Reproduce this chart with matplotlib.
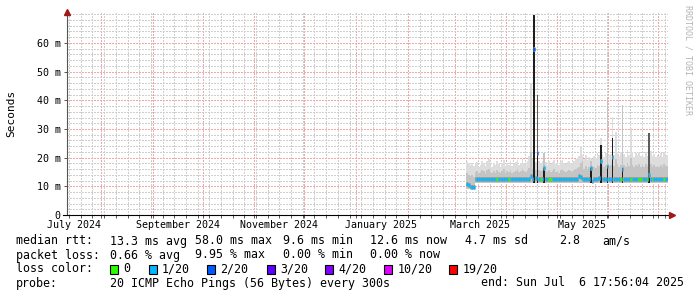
import numpy as np
import matplotlib
matplotlib.use("Agg")
import matplotlib.pyplot as plt
import matplotlib.dates as mdates
import matplotlib.transforms as mtrans
from matplotlib.patches import Rectangle
from datetime import datetime, timedelta

W, H = 697, 297
plt.rcParams['font.family'] = ['DejaVu Sans Mono']

# graph window: last 360 days up to the end stamp
t_end = datetime(2025, 7, 6, 17, 56, 4)
t_start = t_end - timedelta(days=360)
first_day = datetime(2025, 3, 8)   # first day with data

# daily values in ms
median_ms = [
    10.7, 10.6, 9.7, 9.6, 9.8, 12.5, 12.4, 12.5, 12.6, 12.5,
    12.4, 12.5, 12.5, 12.6, 12.5, 12.4, 12.5, 12.5, 12.4, 12.6,
    12.5, 12.5, 12.4, 12.5, 12.6, 12.5, 12.5, 12.4, 12.5, 12.5,
    12.6, 12.5, 12.4, 12.5, 12.5, 12.6, 12.5, 12.6, 13.6, 12.7,
    58.0, 12.8, 21.6, 12.6, 12.4, 12.5, 16.4, 12.5, 12.4, 12.4,
    12.5, 12.5, 12.6, 12.5, 12.4, 12.5, 12.5, 12.6, 12.5, 12.4,
    12.5, 12.5, 12.6, 12.5, 12.4, 12.5, 12.6, 13.6, 13.4, 12.6,
    12.5, 12.4, 12.5, 12.6, 16.5, 11.7, 12.4, 12.5, 12.6, 13.0,
    19.0, 12.6, 12.5, 12.6, 17.1, 12.5, 12.6, 20.3, 12.5, 12.6,
    12.5, 12.4, 12.5, 15.9, 12.6, 12.5, 12.4, 12.5, 12.6, 12.5,
    12.5, 12.4, 12.5, 12.6, 12.5, 12.5, 12.4, 12.5, 12.6, 14.0,
    12.6, 12.5, 12.4, 12.5, 12.6, 12.5, 12.5, 12.4, 12.5, 12.6, 12.6]

smoke_hi = [
    18.6, 18.0, 17.5, 18.2, 17.0, 17.8, 18.5, 16.9, 17.6, 19.0,
    18.2, 17.1, 18.8, 19.4, 17.5, 16.8, 18.1, 17.4, 18.9, 17.7,
    16.9, 18.3, 19.1, 17.2, 18.0, 17.6, 18.7, 17.0, 17.9, 18.4,
    19.2, 17.3, 18.1, 19.5, 18.2, 17.4, 19.0, 20.5, 46.0, 19.5,
    69.8, 18.5, 42.0, 19.0, 18.2, 19.0, 21.6, 18.4, 17.6, 18.9,
    17.8, 18.5, 19.2, 17.9, 18.6, 17.4, 18.8, 19.3, 18.1, 17.7,
    18.5, 19.0, 18.2, 17.8, 18.9, 19.4, 20.0, 20.5, 24.2, 20.9,
    19.5, 20.8, 19.2, 20.2, 19.9, 19.5, 20.5, 19.8, 21.6, 21.0,
    26.8, 21.2, 20.3, 21.5, 41.3, 20.8, 21.4, 34.3, 21.0, 29.0,
    22.0, 20.5, 21.8, 38.4, 21.2, 20.4, 22.5, 21.0, 30.3, 21.8,
    20.2, 21.5, 20.8, 22.0, 20.6, 21.3, 20.1, 21.9, 20.7, 28.6,
    22.3, 20.5, 21.4, 20.2, 21.0, 20.6, 21.7, 20.3, 22.0, 21.1, 20.8]

smoke_mid = [
    14.5, 14.0, 13.6, 13.9, 13.4, 15.0, 15.4, 14.6, 15.1, 15.8,
    15.2, 14.7, 15.6, 16.0, 14.9, 14.5, 15.3, 14.8, 15.7, 15.0,
    14.6, 15.4, 15.9, 14.8, 15.2, 15.0, 15.6, 14.7, 15.1, 15.5,
    15.9, 14.9, 15.3, 16.1, 15.4, 15.0, 15.8, 16.4, 22.0, 16.0,
    18.0, 15.6, 19.0, 15.8, 15.2, 15.7, 21.6, 15.3, 14.9, 15.6,
    15.0, 15.4, 15.9, 15.1, 15.5, 14.8, 15.6, 16.0, 15.2, 15.0,
    15.4, 15.8, 15.3, 15.0, 15.7, 16.0, 16.4, 16.8, 18.0, 19.0,
    16.2, 17.0, 16.0, 16.6, 19.0, 16.2, 16.8, 16.4, 17.6, 17.2,
    20.5, 17.4, 16.8, 17.5, 41.3, 17.0, 17.4, 22.0, 17.2, 19.5,
    17.8, 16.9, 17.6, 38.4, 17.3, 16.8, 18.0, 17.2, 19.8, 17.6,
    16.7, 17.5, 17.0, 17.8, 16.9, 17.3, 16.6, 17.7, 17.0, 16.0,
    17.9, 16.9, 17.4, 16.7, 17.1, 16.8, 17.6, 16.7, 17.8, 17.2, 17.0]

smoke_lo = [
    9.2, 9.0, 8.9, 9.0, 9.2, 11.2, 11.3, 11.1, 11.2, 11.3,
    11.2, 11.1, 11.3, 11.2, 11.2, 11.1, 11.3, 11.2, 11.1, 11.2,
    11.3, 11.2, 11.1, 11.2, 11.3, 11.2, 11.2, 11.1, 11.3, 11.2,
    11.2, 11.3, 11.1, 11.2, 11.2, 11.3, 11.2, 11.1, 11.3, 11.2,
    11.3, 11.2, 11.2, 11.1, 11.3, 11.2, 11.2, 11.1, 11.2, 11.3,
    11.2, 11.1, 11.2, 11.3, 11.2, 11.2, 11.1, 11.3, 11.2, 11.2,
    11.1, 11.2, 11.3, 11.2, 11.2, 11.1, 11.3, 11.2, 11.2, 11.1,
    11.2, 11.3, 11.2, 11.1, 11.2, 10.8, 11.2, 11.3, 11.1, 11.2,
    11.2, 11.3, 11.1, 11.2, 11.2, 11.3, 11.1, 11.2, 11.2, 11.3,
    11.1, 11.2, 11.2, 11.3, 11.1, 11.2, 11.2, 11.3, 11.1, 11.2,
    11.2, 11.1, 11.3, 11.2, 11.2, 11.1, 11.3, 11.2, 11.2, 11.1,
    11.2, 11.3, 11.2, 11.1, 11.2, 11.2, 11.3, 11.1, 11.2, 11.2, 11.3]

# darker parts of the smoke (day index -> top in ms)
dark_days = [42, 109]
dark_top = [42.0, 28.6]
black_days = [40, 42, 46, 74, 80, 84, 87, 93, 109]
black_top = [69.8, 21.6, 16.5, 16.5, 24.4, 17.1, 26.7, 16.4, 14.0]

# loss per day: default 1/20, these days 0 or 2/20
green_days = [18, 25, 44, 49, 50, 92, 98, 103, 104, 108, 111, 118]
blue_days = [40, 42]

loss_labels = ['0', '1/20', '2/20', '3/20', '4/20', '10/20', '19/20']
loss_colors = ['#26ff00', '#00b8ff', '#0059ff', '#5e00ff', '#7e00ff', '#dd00ff', '#ff0000']

month_labels = ['July 2024', 'September 2024', 'November 2024',
                'January 2025', 'March 2025', 'May 2025']
label_months = [datetime(2024, 7, 1), datetime(2024, 9, 1), datetime(2024, 11, 1),
                datetime(2025, 1, 1), datetime(2025, 3, 1), datetime(2025, 5, 1)]

rtt_items = ['13.3 ms avg', '58.0 ms max', '9.6 ms min', '12.6 ms now', '4.7 ms sd', '2.8', 'am/s']
loss_items = ['0.66 % avg', '9.95 % max', '0.00 % min', '0.00 % now']
probe_text = '20 ICMP Echo Pings (56 Bytes) every 300s'
end_text = 'end: Sun Jul  6 17:56:04 2025'

# ---------------------------------------------------------------
fig = plt.figure(figsize=(W / 100, H / 100), dpi=100)
ax = fig.add_axes([67 / W, 1 - 215 / H, 601 / W, 203 / H])

n = len(median_ms)
x0 = mdates.date2num(first_day)
xs = x0 + np.arange(n)
xe = np.append(xs, xs[-1] + 1)

def edge(v):
    v = np.asarray(v, float)
    return np.append(v, v[-1])

ax.fill_between(xe, edge(smoke_lo), edge(smoke_hi), step='post', color='#dddddd', lw=0, zorder=2)
ax.fill_between(xe, edge(smoke_lo), edge(smoke_mid), step='post', color='#c4c4c4', lw=0, zorder=3)

lo = np.asarray(smoke_lo)
dd = np.asarray(dark_days)
ax.bar(x0 + dd, np.asarray(dark_top) - lo[dd], bottom=lo[dd], width=1, align='edge',
       color='#5c5c5c', lw=0, zorder=4)
bd = np.asarray(black_days)
ax.bar(x0 + bd, np.asarray(black_top) - lo[bd], bottom=lo[bd], width=1, align='edge',
       color='#1e1e1e', lw=0, zorder=5)

cols = []
for i in range(n):
    if i in green_days:
        cols.append(loss_colors[0])
    elif i in blue_days:
        cols.append(loss_colors[2])
    else:
        cols.append(loss_colors[1])
ax.hlines(median_ms, xs, xs + 1, colors='#959595', lw=3.4, zorder=6)
ax.hlines(median_ms, xs, xs + 1, colors=cols, lw=2.16, zorder=7)

# axes and grid
ax.set_xlim(mdates.date2num(t_start), mdates.date2num(t_end))
ax.set_ylim(0, 70.8)
ax.xaxis.set_major_locator(mdates.MonthLocator())
ax.xaxis.set_minor_locator(mdates.WeekdayLocator(byweekday=mdates.SA))
ax.set_yticks(np.arange(0, 61, 10))
ax.set_yticks(np.arange(0, 71, 2), minor=True)
ax.grid(which='minor', color='#cfcfcf', linestyle=(0, (1, 1)), lw=1.0, antialiased=False, zorder=0)
ax.grid(which='major', color='#f2a8a8', linestyle=(0, (1, 1)), lw=1.0, antialiased=False, zorder=1)
ax.set_axisbelow(True)
ax.xaxis.set_ticklabels([])
ax.tick_params(axis='x', which='both', length=2, width=0.7, color='#555555')
ax.tick_params(axis='y', which='major', length=2, width=0.7, color='#555555', pad=2.5,
               labelsize=7.2)
ax.tick_params(axis='y', which='minor', length=0)
ax.yaxis.set_major_formatter(plt.FuncFormatter(lambda v, p: '0' if v == 0 else f'{v:.0f} m'))
for s in ['top', 'right']:
    ax.spines[s].set_visible(False)
ax.spines['left'].set_color('#555555')
ax.spines['left'].set_linewidth(0.8)
ax.spines['bottom'].set_color('black')
ax.spines['bottom'].set_linewidth(0.8)
ax.spines['bottom'].set_bounds(mdates.date2num(t_start) - 2.5, mdates.date2num(t_end) + 1.0)

# arrows at axis ends
ax.plot([0], [1.0], marker='^', ms=4.5, color='#a01818', transform=ax.transAxes, clip_on=False, zorder=10)
ax.plot([1.006], [0], marker='>', ms=4.5, color='#a01818', transform=ax.transAxes, clip_on=False, zorder=10)

# month labels, shifted half a month like rrdtool
tr = mtrans.blended_transform_factory(ax.transData, ax.transAxes)
for lab, m in zip(month_labels, label_months):
    ax.text(mdates.date2num(m + timedelta(days=15)), -10 / 203, lab, transform=tr,
            ha='center', va='center', fontsize=7.2)

def px(x, y):
    return x / W, 1 - y / H

fig.text(*px(11, 113), 'Seconds', rotation=90, ha='center', va='center', fontsize=8)
fig.text(*px(688, 60), 'RRDTOOL / TOBI OETIKER', rotation=270, ha='center', va='center',
         fontsize=6.0, color='#b4b4b4')

fs = 8.4
fig.text(*px(16, 241), 'median rtt:', va='center', fontsize=fs)
for txt, xp in zip(rtt_items, [109.6, 194.9, 283.3, 369.9, 464.6, 559.3, 602.2]):
    fig.text(*px(xp, 241), txt, va='center', fontsize=fs)
fig.text(*px(16, 255), 'packet loss:', va='center', fontsize=fs)
for txt, xp in zip(loss_items, [109.6, 194.9, 283.3, 369.9]):
    fig.text(*px(xp, 255), txt, va='center', fontsize=fs)
fig.text(*px(16, 269), 'loss color:', va='center', fontsize=fs)
for lab, c, xp in zip(loss_labels, loss_colors, [109.6, 148, 206.6, 266, 324, 383.4, 448.8]):
    fig.add_artist(Rectangle(((xp + 0.5) / W, 1 - 274 / H), 8 / W, 9 / H, transform=fig.transFigure,
                             facecolor=c, edgecolor='black', lw=0.8))
    fig.text(*px(xp + 14, 269), lab, va='center', fontsize=fs)
fig.text(*px(16, 283), 'probe:', va='center', fontsize=fs)
fig.text(*px(109.6, 283), probe_text, va='center', fontsize=fs)
fig.text(*px(684, 283), end_text, va='center', ha='right', fontsize=fs)

fig.savefig('out.png', dpi=100, facecolor='white')
